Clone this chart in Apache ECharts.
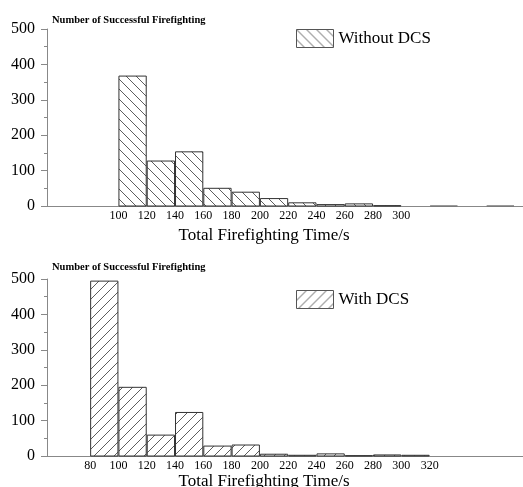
<!DOCTYPE html>
<html>
<head>
<meta charset="utf-8">
<script src="https://cdn.jsdelivr.net/npm/echarts@6/dist/echarts.min.js"></script>
<style>html,body{margin:0;padding:0;background:#fff;}#c{width:523px;height:487px;}</style>
</head>
<body>
<div id="c"></div>
<script>
// ---- data ----
const binWidth = 20;
const withoutStarts = [100, 120, 140, 160, 180, 200, 220, 240, 260, 280, 320, 360];
const withoutValues = [367, 127, 153, 50, 39, 21, 9, 4, 6, 1, 0, 0];
const withStarts = [80, 100, 120, 140, 160, 180, 200, 220, 240, 260, 280, 300];
const withValues = [494, 194, 59, 123, 28, 31, 5, 2, 6, 1, 3, 2];
const withoutTicks = [100, 120, 140, 160, 180, 200, 220, 240, 260, 280, 300];
const withTicks = [80, 100, 120, 140, 160, 180, 200, 220, 240, 260, 280, 300, 320];
const yTicks = [0, 100, 200, 300, 400, 500];

const FONT = "'Liberation Serif', 'Times New Roman', serif";

function makePattern(dir) {
  const s = 10;
  const c = document.createElement('canvas');
  c.width = s; c.height = s;
  const g = c.getContext('2d');
  g.fillStyle = '#fff'; g.fillRect(0, 0, s, s);
  g.strokeStyle = '#333'; g.lineWidth = 0.8;
  g.beginPath();
  if (dir === 'back') {
    g.moveTo(-1, -1); g.lineTo(s + 1, s + 1);
    g.moveTo(-1, s - 1); g.lineTo(1, s + 1);
    g.moveTo(s - 1, -1); g.lineTo(s + 1, 1);
  } else {
    g.moveTo(-1, s + 1); g.lineTo(s + 1, -1);
    g.moveTo(-1, 1); g.lineTo(1, -1);
    g.moveTo(s - 1, s + 1); g.lineTo(s + 1, s - 1);
  }
  g.stroke();
  return { image: c, repeat: 'repeat' };
}
const patBack = makePattern('back');
const patFwd = makePattern('fwd');

function toRows(starts, vals) {
  return starts.map((s, i) => [s, s + binWidth, vals[i]]);
}

function renderItem(params, api) {
  const x0 = api.value(0), x1 = api.value(1), y = api.value(2);
  const p0 = api.coord([x0, y]);
  const p1 = api.coord([x1, 0]);
  const zero = y === 0;
  return {
    type: 'rect',
    shape: { x: p0[0] + 0.5, y: p0[1], width: p1[0] - p0[0] - 1, height: p1[1] - p0[1] },
    style: api.style({ stroke: zero ? '#777' : '#333', lineWidth: 1 })
  };
}

const xMin = 49.5, xMax = 386;

function xAxisCfg(gridIndex, ticks, gap) {
  return {
    type: 'value', gridIndex, min: xMin, max: xMax,
    axisLine: { show: true, lineStyle: { color: '#888', width: 1 } },
    axisTick: { show: false },
    splitLine: { show: false },
    axisLabel: { customValues: ticks, color: '#000', fontSize: 12, fontFamily: FONT, margin: 4 },
    name: 'Total Firefighting Time/s',
    nameLocation: 'middle',
    nameGap: gap,
    nameTextStyle: { color: '#000', fontSize: 17, fontFamily: FONT, padding: [0, 42, 0, 0] }
  };
}
function yAxisCfg(gridIndex) {
  return {
    type: 'value', gridIndex, min: 0, max: 500, interval: 100,
    axisLine: { show: true, lineStyle: { color: '#888', width: 1 } },
    axisTick: { show: true, length: 6, lineStyle: { color: '#888' } },
    minorTick: { show: true, splitNumber: 2, length: 3, lineStyle: { color: '#888' } },
    splitLine: { show: false },
    axisLabel: { customValues: yTicks, color: '#000', fontSize: 16, fontFamily: FONT, margin: 12 }
  };
}

const legendText = { fontSize: 17, fontFamily: FONT, color: '#000', padding: [5, 0, 0, 0] };

const chart = echarts.init(document.getElementById('c'), null, { renderer: 'canvas' });
chart.setOption({
  animation: false,
  backgroundColor: '#fff',
  title: [
    { text: 'Number of Successful Firefighting', left: 47, top: 10,
      textStyle: { fontSize: 10.5, fontWeight: 'bold', fontFamily: FONT, color: '#000' } },
    { text: 'Number of Successful Firefighting', left: 47, top: 257,
      textStyle: { fontSize: 10.5, fontWeight: 'bold', fontFamily: FONT, color: '#000' } }
  ],
  legend: [
    { data: ['Without DCS'], left: 296, top: 29, padding: 0, icon: 'rect', itemWidth: 37, itemHeight: 18,
      itemStyle: { borderColor: '#555', borderWidth: 1 }, textStyle: legendText },
    { data: ['With DCS'], left: 296, top: 290, padding: 0, icon: 'rect', itemWidth: 37, itemHeight: 18,
      itemStyle: { borderColor: '#555', borderWidth: 1 }, textStyle: legendText }
  ],
  grid: [
    { left: 47, right: 0, top: 29, height: 177, outerBoundsMode: 'none', containLabel: false },
    { left: 47, right: 0, top: 279, height: 177, outerBoundsMode: 'none', containLabel: false }
  ],
  xAxis: [xAxisCfg(0, withoutTicks, 21), xAxisCfg(1, withTicks, 17)],
  yAxis: [yAxisCfg(0), yAxisCfg(1)],
  series: [
    { type: 'custom', name: 'Without DCS', xAxisIndex: 0, yAxisIndex: 0,
      renderItem, encode: { x: [0, 1], y: 2 }, data: toRows(withoutStarts, withoutValues),
      itemStyle: { color: patBack } },
    { type: 'custom', name: 'With DCS', xAxisIndex: 1, yAxisIndex: 1,
      renderItem, encode: { x: [0, 1], y: 2 }, data: toRows(withStarts, withValues),
      itemStyle: { color: patFwd } }
  ]
});
</script>
</body>
</html>
